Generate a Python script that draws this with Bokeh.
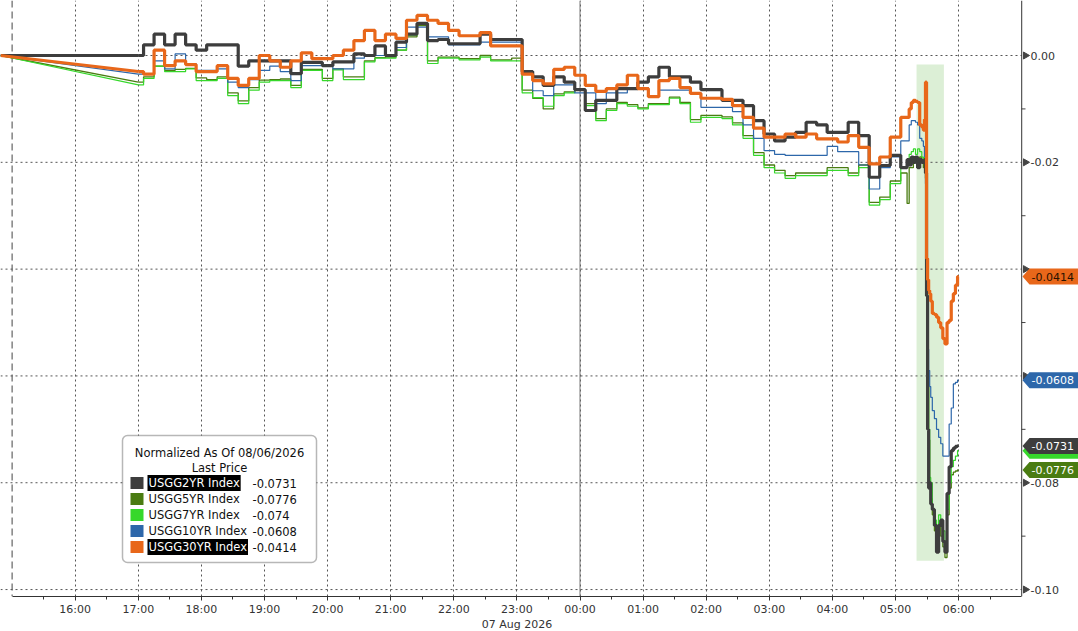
import math

import pandas as pd
from bokeh.core.properties import value
from bokeh.embed import file_html
from bokeh.models import (BoxAnnotation, FixedTicker, Grid, Label, LinearAxis,
                          Range1d, Span)
from bokeh.plotting import figure
from bokeh.resources import INLINE

FONT = "DejaVu Sans"

# sample times: normalisation point, 10 minute grid, then finer round the 05:30 drop
start_time = ["2026-08-06 14:49"]
grid_times = list(pd.date_range("2026-08-06 17:00", "2026-08-07 05:10",
                                freq="10min").strftime("%Y-%m-%d %H:%M"))
spike_times = ["05:12", "05:14", "05:16", "05:18", "05:20", "05:22", "05:24", "05:26",
               "05:27", "05:28", "05:29", "05:30", "05:31", "05:32", "05:33", "05:34",
               "05:36", "05:38", "05:40", "05:42", "05:44", "05:46", "05:48", "05:50",
               "05:52", "05:54", "05:56", "05:58", "06:00"]
times = pd.to_datetime(start_time + grid_times + ["2026-08-07 " + t for t in spike_times],
                       format="%Y-%m-%d %H:%M")

usgg2yr = [
    0.0,
    0.0, 0.002, 0.004, 0.002, 0.004, 0.002, 0.001, 0.002, 0.002, 0.002,
    -0.002, -0.001, -0.001, -0.001, -0.001, -0.0034, -0.0013, -0.0013, -0.0019, -0.0012,
    -0.0012, 0.0003, 0.0, 0.0018, 0.0, 0.0025, 0.004, 0.006, 0.0028, 0.003,
    0.0022, 0.0022, 0.0022, 0.004, 0.003, 0.003, 0.003, -0.003, -0.004, -0.0056,
    -0.004, -0.005, -0.0064, -0.0103, -0.0084, -0.0084, -0.0062, -0.0062, -0.005, -0.004,
    -0.0022, -0.004, -0.004, -0.005, -0.0064, -0.0064, -0.0084, -0.0084, -0.0094, -0.0122,
    -0.0147, -0.016, -0.0153, -0.0144, -0.0125, -0.013, -0.0144, -0.0144, -0.0125, -0.015,
    -0.0228, -0.0206, -0.0187, -0.021,
    -0.0195, -0.0205, -0.019, -0.020, -0.019, -0.021, -0.0195, -0.020,
    -0.020, -0.0195, -0.022, -0.045, -0.070, -0.081, -0.080, -0.084,
    -0.085, -0.088, -0.093, -0.088, -0.087, -0.091, -0.093, -0.082,
    -0.077, -0.074, -0.0735, -0.0732, -0.0731]
usgg5yr = [
    0.0,
    -0.005, -0.004, -0.002, -0.0028, -0.0026, -0.0024, -0.0042, -0.0045, -0.004, -0.007,
    -0.0085, -0.006, -0.0046, -0.0045, -0.0044, -0.0056, -0.0026, -0.0026, -0.0043, -0.0025,
    -0.004, -0.004, -0.001, -0.0004, -0.0003, 0.001, 0.0035, 0.0056, -0.001, -0.0003,
    -0.0003, -0.0006, -0.0006, 0.0, -0.0008, -0.0008, -0.0005, -0.0065, -0.008, -0.010,
    -0.0072, -0.0068, -0.0065, -0.009, -0.0118, -0.010, -0.0088, -0.0092, -0.0098, -0.009,
    -0.009, -0.0078, -0.0088, -0.012, -0.0112, -0.0112, -0.0115, -0.0126, -0.015, -0.0182,
    -0.0205, -0.0215, -0.0225, -0.022, -0.022, -0.022, -0.021, -0.021, -0.022, -0.0205,
    -0.0275, -0.0265, -0.0235, -0.022,
    -0.0277, -0.021, -0.021, -0.020, -0.0195, -0.021, -0.019, -0.020,
    -0.021, -0.020, -0.023, -0.042, -0.062, -0.072, -0.080, -0.083,
    -0.086, -0.089, -0.092, -0.088, -0.090, -0.092, -0.094, -0.086,
    -0.081, -0.0785, -0.078, -0.0778, -0.0776]
usgg7yr = [
    0.0,
    -0.0055, -0.0043, -0.002, -0.003, -0.003, -0.0025, -0.0047, -0.0047, -0.0043, -0.0075,
    -0.009, -0.0065, -0.005, -0.0047, -0.0047, -0.006, -0.0028, -0.0028, -0.0047, -0.0027,
    -0.0045, -0.0045, -0.0012, -0.0005, -0.0005, 0.001, 0.0038, 0.006, -0.0015, -0.0005,
    -0.0005, -0.0008, -0.0008, -0.0003, -0.001, -0.001, -0.001, -0.007, -0.0079, -0.0095,
    -0.0075, -0.007, -0.0065, -0.0094, -0.0122, -0.0103, -0.009, -0.0095, -0.010, -0.0092,
    -0.0092, -0.008, -0.009, -0.0125, -0.0116, -0.0116, -0.0118, -0.013, -0.0155, -0.0187,
    -0.021, -0.022, -0.023, -0.0225, -0.0225, -0.0225, -0.0215, -0.0215, -0.0225, -0.021,
    -0.028, -0.027, -0.024, -0.021,
    -0.020, -0.0185, -0.018, -0.0175, -0.0185, -0.0175, -0.018, -0.019,
    -0.0195, -0.019, -0.022, -0.040, -0.060, -0.070, -0.079, -0.080,
    -0.085, -0.087, -0.088, -0.086, -0.088, -0.089, -0.093, -0.085,
    -0.080, -0.077, -0.0758, -0.075, -0.074]
usgg10yr = [
    0.0,
    -0.0035, -0.0035, -0.001, -0.0025, 0.0003, -0.0015, -0.0028, -0.0028, -0.0025, -0.005,
    -0.006, -0.0045, -0.0028, -0.002, -0.003, -0.0047, -0.0019, -0.0019, -0.0019, -0.0025,
    -0.0025, -0.0005, 0.0, 0.0, 0.0, 0.0015, 0.0053, 0.0053, 0.0035, 0.0035,
    0.002, 0.002, 0.002, 0.0025, 0.0025, 0.0025, 0.0025, -0.0035, -0.0066, -0.0075,
    -0.0055, -0.0055, -0.007, -0.007, -0.009, -0.007, -0.007, -0.006, -0.006, -0.0075,
    -0.0065, -0.0065, -0.0065, -0.007, -0.0097, -0.0097, -0.0097, -0.0105, -0.013, -0.0155,
    -0.0178, -0.0185, -0.0187, -0.0187, -0.0187, -0.0187, -0.017, -0.018, -0.018, -0.0205,
    -0.025, -0.021, -0.019, -0.016,
    -0.016, -0.013, -0.0122, -0.0122, -0.0125, -0.013, -0.0155, -0.016,
    -0.017, -0.019, -0.024, -0.045, -0.055, -0.059, -0.062, -0.064,
    -0.0665, -0.068, -0.070, -0.0715, -0.0727, -0.075, -0.075, -0.075,
    -0.069, -0.066, -0.0615, -0.0612, -0.0608]
usgg30yr = [
    0.0,
    -0.003, -0.0035, 0.001, -0.0019, -0.001, -0.0017, -0.003, -0.003, -0.0019, -0.0043,
    -0.0056, -0.0043, 0.0, -0.001, -0.0022, -0.001, 0.0005, -0.0006, -0.0006, 0.0,
    0.001, 0.0028, 0.0047, 0.0028, 0.004, 0.0032, 0.0066, 0.0075, 0.0066, 0.006,
    0.0047, 0.0037, 0.0037, 0.0043, 0.0018, 0.0018, 0.0018, -0.0035, -0.0047, -0.0053,
    -0.0026, -0.0022, -0.0037, -0.0056, -0.0067, -0.0062, -0.0055, -0.0037, -0.0062, -0.0077,
    -0.0047, -0.0043, -0.006, -0.0071, -0.008, -0.008, -0.0082, -0.0094, -0.0116, -0.0136,
    -0.0153, -0.0153, -0.0147, -0.0153, -0.0147, -0.0156, -0.0156, -0.0162, -0.015, -0.0172,
    -0.0203, -0.019, -0.0153, -0.0116,
    -0.0116, -0.010, -0.0088, -0.0084, -0.0086, -0.0088, -0.013, -0.0134,
    -0.014, -0.012, -0.005, -0.038, -0.042, -0.044, -0.0446, -0.046,
    -0.0483, -0.0485, -0.049, -0.050, -0.051, -0.053, -0.054, -0.050,
    -0.0496, -0.046, -0.0446, -0.043, -0.0414]

names = ["USGG2YR Index", "USGG5YR Index", "USGG7YR Index", "USGG10YR Index", "USGG30YR Index"]
last_prices = [-0.0731, -0.0776, -0.074, -0.0608, -0.0414]
colors = ["#3d3d3d", "#4a7c12", "#36d82b", "#2d67aa", "#e8671a"]
widths = [3.2, 1.3, 1.2, 1.2, 3.2]
tag_text_colors = ["white", "white", "white", "white", "#2a1200"]
highlighted = ["USGG2YR Index", "USGG30YR Index"]
legend_title = "Normalized As Of 08/06/2026"
legend_subtitle = "Last Price"

hour_ticks = pd.date_range("2026-08-06 16:00", "2026-08-07 06:00", freq="1h")
half_ticks = pd.date_range("2026-08-06 15:30", "2026-08-07 06:30", freq="1h")
date_note = "07 Aug 2026"
date_note_at = "2026-08-06 23:00"
y_ticks = [0.0, -0.02, -0.04, -0.06, -0.08, -0.10]
y_minor = [-0.01, -0.03, -0.05, -0.07, -0.09]
session_start = "2026-08-06 15:00"
day_break = "2026-08-07 00:00"
axis_time = "2026-08-07 07:00"
shade = ("2026-08-07 05:20", "2026-08-07 05:46", -0.0017, -0.0946)


def ms(t):
    return int(pd.Timestamp(t).value // 10**6)


W, H = 1078, 596
TAG_H = 0.0015
p = figure(frame_width=W, frame_height=H, output_backend="svg",
           toolbar_location=None, y_axis_location=None, x_axis_location=None,
           min_border_left=0, min_border_top=0, min_border_right=0,
           min_border_bottom=0)
p.x_range = Range1d(ms("2026-08-06 14:48:58"), ms("2026-08-07 07:54:00"))
p.y_range = Range1d(-0.1013, 0.0103)
# pixel range for the price scale drawn right of the 07:00 axis line
p.extra_x_ranges = {"px": Range1d(0, W)}
p.outline_line_color = None
p.ygrid.visible = False
p.xgrid.visible = False

# time axis: hour ticks labelled by hand, date under 23:00
xaxis = LinearAxis(bounds=(ms(session_start), ms(axis_time)))
p.add_layout(xaxis, "below")
xaxis.ticker = FixedTicker(ticks=[ms(t) for t in hour_ticks],
                           minor_ticks=[ms(t) for t in half_ticks])
overrides = {ms(t): t.strftime("%H:%M") for t in hour_ticks}
overrides[ms(date_note_at)] = pd.Timestamp(date_note_at).strftime("%H:%M") + "\n" + date_note
xaxis.major_label_overrides = overrides
xaxis.axis_line_color = "#333333"
xaxis.major_tick_line_color = "#333333"
xaxis.minor_tick_line_color = "#333333"
xaxis.major_tick_in = 0
xaxis.minor_tick_in = 0
xaxis.major_tick_out = 4
xaxis.minor_tick_out = 3
xaxis.major_label_standoff = 2
xaxis.major_label_text_font = FONT
xaxis.major_label_text_font_size = "11px"
xaxis.major_label_text_color = "#333333"

p.add_layout(Grid(dimension=0, ticker=xaxis.ticker, grid_line_color="#555555",
                  grid_line_dash="2 3"))
p.segment(x0=[p.x_range.start] * len(y_ticks), y0=y_ticks,
          x1=[ms(axis_time)] * len(y_ticks), y1=y_ticks,
          line_color="#555555", line_dash="2 3", line_width=1)

p.add_layout(Span(location=ms(session_start), dimension="height", line_color="#444444",
                  line_dash="7 4", line_width=1, level="underlay"))
p.add_layout(Span(location=ms(day_break), dimension="height", line_color="#777777",
                  line_width=1, level="underlay"))
p.add_layout(Span(location=ms(axis_time), dimension="height", line_color="#333333",
                  line_width=1))
p.add_layout(BoxAnnotation(left=ms(shade[0]), right=ms(shade[1]), top=shade[2],
                           bottom=shade[3], fill_color="#dcefd6", fill_alpha=1,
                           line_color=None, level="underlay"))

x = [ms(t) for t in times]
series = [usgg2yr, usgg5yr, usgg7yr, usgg10yr, usgg30yr]
for i in [1, 2, 3, 0, 4]:
    ys = series[i]
    p.line(x[:2], ys[:2], line_color=colors[i], line_width=widths[i])
    p.step(x[1:], ys[1:], mode="center", line_color=colors[i], line_width=widths[i])

# price scale right of the axis line; labels that sit under a price tag are hidden
p.scatter(x=[1025] * len(y_ticks), y=y_ticks, x_range_name="px", marker="triangle",
          angle=-math.pi / 2, size=7, color="#444444")
p.segment(x0=[1021] * len(y_minor), y0=y_minor, x1=[1025] * len(y_minor), y1=y_minor,
          x_range_name="px", line_color="#444444")
shown = [t for t in y_ticks if all(abs(t - v) > TAG_H for v in last_prices)]
p.text(x=[1030] * len(shown), y=shown, text=[f"{v:.2f}" for v in shown],
       x_range_name="px", text_baseline="middle", text_font=value(FONT),
       text_font_size="11px", text_color="#333333")

# last price tags
for i in [2, 3, 4, 0, 1]:
    v = last_prices[i]
    p.patch([1022, 1029, W, W, 1029], [v, v + TAG_H, v + TAG_H, v - TAG_H, v - TAG_H],
            x_range_name="px", fill_color=colors[i], line_color=None)
    if i != 2:
        p.text(x=[1031], y=[v], text=[str(v)], x_range_name="px",
               text_baseline="middle", text_font=value(FONT),
               text_font_size="11px", text_color=tag_text_colors[i])

# legend box (screen units from frame bottom-left)
p.add_layout(BoxAnnotation(left=122, right=316, bottom=34, top=161,
                           left_units="screen", right_units="screen",
                           top_units="screen", bottom_units="screen",
                           fill_color="white", fill_alpha=1, line_color="#111111",
                           line_width=1.5, border_radius=5))
p.add_layout(Label(x=219, y=144, x_units="screen", y_units="screen", text=legend_title,
                   text_align="center", text_baseline="middle", text_font=FONT,
                   text_font_size="11.5px", text_color="#111111"))
p.add_layout(Label(x=219, y=129, x_units="screen", y_units="screen", text=legend_subtitle,
                   text_align="center", text_baseline="middle", text_font=FONT,
                   text_font_size="11.5px", text_color="#111111"))
for i, name in enumerate(names):
    ry = 113.5 - 16 * i
    p.add_layout(BoxAnnotation(left=130, right=143, bottom=ry - 6, top=ry + 6,
                               left_units="screen", right_units="screen",
                               top_units="screen", bottom_units="screen",
                               fill_color=colors[i], fill_alpha=1, line_color=None))
    hl = name in highlighted
    p.add_layout(Label(x=147, y=ry, x_units="screen", y_units="screen", text=name,
                       text_baseline="middle", text_font=FONT, text_font_size="11.5px",
                       text_color="white" if hl else "#111111",
                       background_fill_color="black" if hl else None,
                       padding=1))
    p.add_layout(Label(x=252, y=ry, x_units="screen", y_units="screen",
                       text=str(last_prices[i]), text_baseline="middle", text_font=FONT,
                       text_font_size="11.5px", text_color="#111111"))

open("out.html", "w").write(file_html(p, INLINE))
